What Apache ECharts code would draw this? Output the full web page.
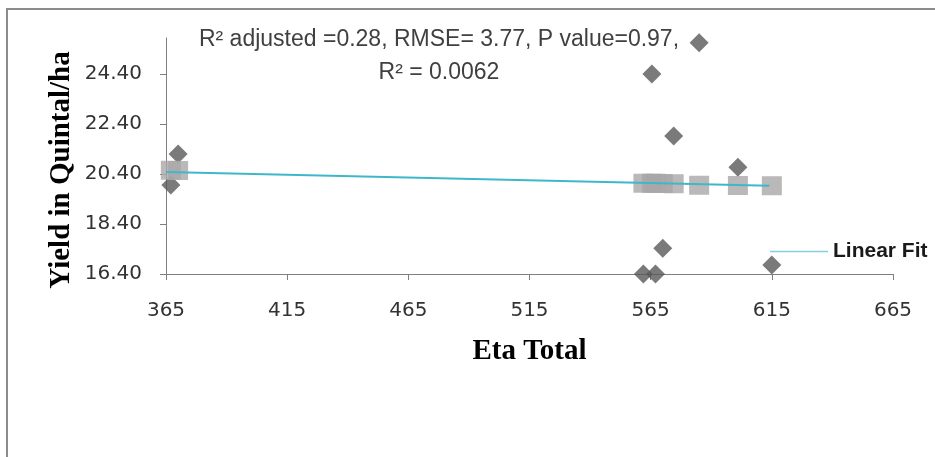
<!DOCTYPE html>
<html>
<head>
<meta charset="utf-8">
<script src="https://cdn.jsdelivr.net/npm/echarts@6/dist/echarts.min.js"></script>
<style>
html,body{margin:0;padding:0;background:#fff;}
#chart{width:935px;height:457px;}
</style>
</head>
<body>
<div id="chart"></div>
<script>
// Observed data (diamonds)
const etaObserved = [367, 370, 562, 567, 565.5, 570, 574.5, 585, 601, 615];
const yieldObserved = [19.96, 21.2, 16.4, 16.4, 24.4, 17.43, 21.92, 25.65, 20.67, 16.76];
// Fitted values (squares)
const yieldFitted = [20.55, 20.54, 20.03, 20.03, 20.03, 20.02, 20.01, 19.95, 19.94, 19.93];
// Linear fit line end points
const fitX = [365, 614];
const fitY = [20.48, 19.93];
const xTicks = [365, 415, 465, 515, 565, 615, 665];
const yTicks = [16.40, 18.40, 20.40, 22.40, 24.40];
const annotation = 'R\u00B2 adjusted =0.28, RMSE= 3.77, P value=0.97,\nR\u00B2 = 0.0062';
const xTitle = 'Eta Total';
const yTitle = 'Yield in Quintal/ha';

const chart = echarts.init(document.getElementById('chart'), null, {renderer: 'canvas'});
const axisColor = '#7f7f7f';
const option = {
  animation: false,
  backgroundColor: '#ffffff',
  grid: {left: 166, top: 38, width: 727, height: 236, containLabel: false},
  legend: {
    data: [{name: 'Linear Fit', icon: 'rect', itemStyle: {color: '#86d0dc'}}],
    left: 765, top: 236,
    itemWidth: 58, itemHeight: 1.5, itemGap: 2,
    textStyle: {fontFamily: 'Liberation Sans', fontWeight: 'bold', fontSize: 21, color: '#1a1a1a', padding: [0, 0, 20, 0]}
  },
  xAxis: {
    type: 'value', min: xTicks[0], max: xTicks[xTicks.length - 1], interval: 50,
    name: xTitle, nameLocation: 'middle', nameGap: 63,
    nameTextStyle: {fontFamily: 'Liberation Serif', fontWeight: 'bold', fontSize: 29, color: '#000'},
    axisLine: {show: true, lineStyle: {color: axisColor, width: 1}},
    axisTick: {show: true, length: 6, lineStyle: {color: axisColor}},
    axisLabel: {margin: 27, fontFamily: 'DejaVu Sans', fontSize: 20, color: '#333'},
    splitLine: {show: false}
  },
  yAxis: {
    type: 'value', min: yTicks[0], max: 25.84, interval: 2,
    axisLine: {show: true, lineStyle: {color: axisColor, width: 1}},
    axisTick: {show: true, length: 6, lineStyle: {color: axisColor}},
    axisLabel: {margin: 24, fontFamily: 'DejaVu Sans', fontSize: 20, color: '#333', showMaxLabel: false,
      formatter: v => v.toFixed(2)},
    splitLine: {show: false}
  },
  graphic: [
    {type: 'rect', silent: true, shape: {x: 7, y: 9, width: 940, height: 470},
     style: {fill: 'none', stroke: '#8c8c8c', lineWidth: 2}},
    {type: 'text', silent: true, x: 62, y: 170, rotation: Math.PI / 2,
     style: {text: yTitle, fontFamily: 'Liberation Serif', fontWeight: 'bold', fontSize: 29, fill: '#000', align: 'center', verticalAlign: 'middle'}},
    {type: 'text', silent: true, x: 439, y: 23,
     style: {text: annotation, fontFamily: 'Liberation Sans', fontSize: 23, fill: '#404040', align: 'center', verticalAlign: 'top', lineHeight: 33}}
  ],
  series: [
    {name: 'Observed', type: 'scatter', symbol: 'diamond', symbolSize: 19,
     itemStyle: {color: '#595959'}, z: 2,
     data: etaObserved.map((x, i) => [x, yieldObserved[i]])},
    {name: 'Fitted', type: 'scatter', symbol: 'rect', symbolSize: [20, 19],
     itemStyle: {color: '#aaa6a8'}, z: 3,
     data: etaObserved.map((x, i) => [x, yieldFitted[i]])},
    {name: 'Linear Fit', type: 'line', symbol: 'none', z: 4,
     lineStyle: {color: '#3eb7cb', width: 2},
     data: fitX.map((x, i) => [x, fitY[i]])}
  ]
};
chart.setOption(option);
</script>
</body>
</html>
